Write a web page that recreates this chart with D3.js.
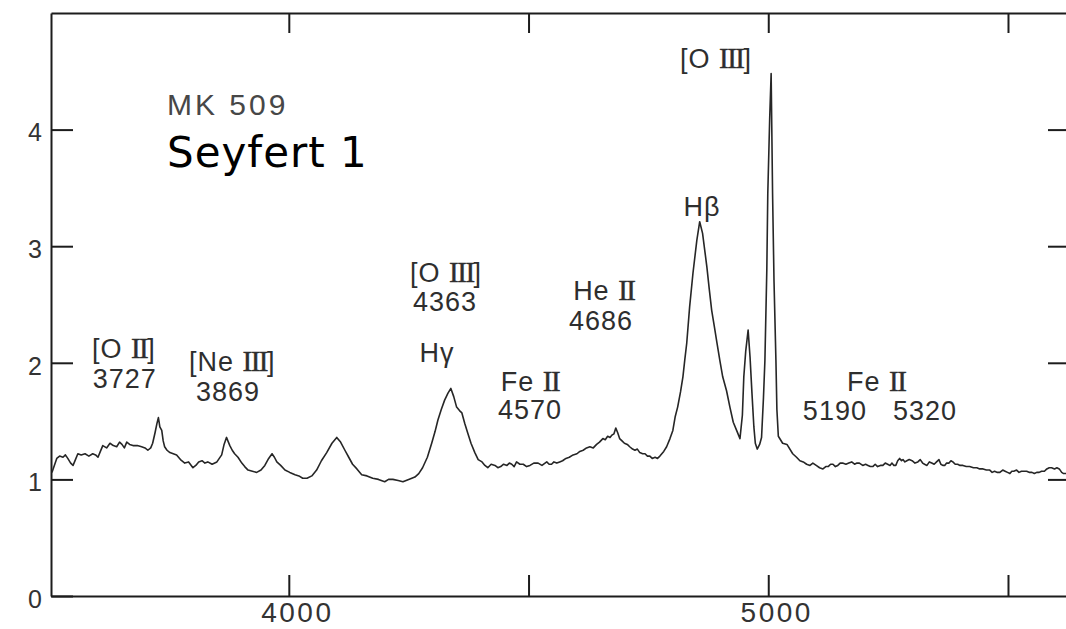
<!DOCTYPE html>
<html>
<head>
<meta charset="utf-8">
<script src="https://cdn.jsdelivr.net/npm/d3@7"></script>
<style>
  html, body { margin: 0; padding: 0; background: #fff; }
  svg { display: block; }
</style>
</head>
<body>
<svg id="chart" width="1066" height="629"></svg>
<script>
// Optical spectrum of Mrk 509: wavelength (Å) and relative flux
const wavelength = [
  3506, 3511, 3516, 3522, 3529, 3534, 3539, 3545, 3550, 3555, 3560, 3567, 3575, 3583, 3591, 3597,
  3602, 3607, 3612, 3620, 3627, 3634, 3641, 3647, 3652, 3657, 3662, 3668, 3675, 3684, 3693, 3700,
  3706, 3712, 3716, 3721, 3725, 3728, 3731, 3735, 3738, 3741, 3746, 3752, 3759, 3766, 3774, 3783,
  3791, 3800, 3806, 3812, 3819, 3825, 3831, 3840, 3850, 3855, 3860, 3865, 3870, 3874, 3877, 3882,
  3887, 3894, 3902, 3908, 3915, 3924, 3933, 3942, 3950, 3958, 3965, 3970, 3975, 3983, 3992, 4002,
  4013, 4021, 4029, 4038, 4048, 4058, 4068, 4079, 4090, 4100, 4108, 4117, 4125, 4133, 4142, 4152,
  4163, 4175, 4187, 4200, 4208, 4217, 4228, 4238, 4250, 4263, 4271, 4279, 4289, 4298, 4305, 4311,
  4318, 4325, 4332, 4338, 4344, 4350, 4356, 4361, 4367, 4373, 4380, 4388, 4395, 4403, 4409, 4415,
  4422, 4430, 4436, 4442, 4448, 4455, 4460, 4465, 4470, 4475, 4482, 4489, 4496, 4503, 4511, 4520,
  4528, 4538, 4543, 4548, 4553, 4559, 4565, 4571, 4578, 4585, 4593, 4601, 4607, 4614, 4621, 4628,
  4635, 4642, 4648, 4655, 4660, 4665, 4670, 4674, 4678, 4682, 4686, 4690, 4695, 4700, 4706, 4711,
  4717, 4722, 4727, 4732, 4738, 4743, 4748, 4753, 4758, 4764, 4769, 4774, 4782,
  4788, 4795, 4801, 4806, 4811, 4817, 4822, 4826, 4830, 4836, 4843, 4851, 4857, 4863, 4868, 4872,
  4877, 4882, 4888, 4893, 4899, 4905, 4913, 4920, 4927, 4934, 4941, 4946, 4949, 4953, 4958, 4962,
  4966, 4970, 4973, 4977, 4982, 4986, 4990, 4993, 4997, 4999, 5003, 5006, 5009, 5012, 5016, 5018,
  5021, 5030, 5039, 5051, 5059, 5066, 5073, 5080, 5087, 5093, 5100, 5107, 5114, 5120, 5125, 5130,
  5135, 5140, 5145, 5150, 5155, 5162, 5168, 5174, 5180, 5185, 5190, 5197, 5203, 5208, 5213, 5218,
  5223, 5228, 5234, 5239, 5244, 5249, 5254, 5258, 5262, 5266, 5270, 5274, 5278, 5281, 5285, 5289,
  5294, 5300, 5306, 5312, 5317, 5322, 5326, 5331, 5336, 5341, 5346, 5351, 5356, 5360, 5364, 5368,
  5372, 5377, 5381, 5385, 5390, 5395, 5400, 5406, 5413, 5420, 5428, 5435, 5441, 5448, 5455, 5462,
  5467, 5472, 5478, 5483, 5489, 5494, 5499, 5504, 5508, 5512, 5518, 5523, 5528, 5534, 5539, 5545,
  5550, 5555, 5560, 5565, 5570, 5576, 5581, 5586, 5591, 5597, 5602, 5607, 5612, 5616, 5621
];
const flux = [
  1.06, 1.12, 1.18, 1.20, 1.19, 1.21, 1.18, 1.14, 1.12, 1.17, 1.22, 1.21, 1.22, 1.20, 1.22, 1.21,
  1.19, 1.24, 1.29, 1.27, 1.31, 1.29, 1.28, 1.32, 1.30, 1.27, 1.32, 1.30, 1.29, 1.29, 1.28, 1.27,
  1.25, 1.27, 1.31, 1.40, 1.48, 1.53, 1.45, 1.42, 1.33, 1.28, 1.25, 1.23, 1.22, 1.21, 1.17, 1.14,
  1.15, 1.10, 1.12, 1.15, 1.16, 1.14, 1.15, 1.13, 1.15, 1.18, 1.21, 1.30, 1.36, 1.32, 1.29, 1.25,
  1.22, 1.19, 1.14, 1.11, 1.08, 1.07, 1.06, 1.08, 1.12, 1.18, 1.22, 1.19, 1.15, 1.12, 1.08, 1.06,
  1.04, 1.03, 1.01, 1.01, 1.03, 1.08, 1.16, 1.23, 1.31, 1.36, 1.32, 1.25, 1.19, 1.13, 1.09, 1.04,
  1.03, 1.01, 1.00, 0.98, 1.00, 1.00, 0.99, 0.98, 1.00, 1.02, 1.05, 1.10, 1.19, 1.31, 1.41, 1.51,
  1.60, 1.68, 1.74, 1.78, 1.71, 1.62, 1.59, 1.57, 1.48, 1.40, 1.31, 1.23, 1.17, 1.15, 1.12, 1.10,
  1.13, 1.12, 1.10, 1.11, 1.13, 1.12, 1.14, 1.13, 1.11, 1.15, 1.13, 1.13, 1.11, 1.12, 1.14, 1.14,
  1.12, 1.15, 1.13, 1.13, 1.15, 1.14, 1.15, 1.16, 1.18, 1.19, 1.21, 1.22, 1.24, 1.25, 1.27, 1.28,
  1.27, 1.30, 1.32, 1.35, 1.34, 1.37, 1.36, 1.38, 1.39, 1.44, 1.40, 1.35, 1.33, 1.31, 1.30, 1.28,
  1.26, 1.25, 1.26, 1.23, 1.22, 1.22, 1.20, 1.20, 1.18, 1.19, 1.18, 1.20, 1.24,
  1.28, 1.35, 1.42, 1.54, 1.62, 1.75, 1.88, 2.03, 2.17, 2.48, 2.77, 3.05, 3.21, 3.11, 2.95, 2.82,
  2.63, 2.45, 2.30, 2.17, 2.02, 1.88, 1.76, 1.62, 1.49, 1.42, 1.35, 1.55, 1.88, 2.10, 2.28, 2.05,
  1.74, 1.45, 1.31, 1.26, 1.30, 1.36, 1.70, 2.02, 2.80, 3.45, 4.10, 4.48, 3.45, 2.70, 2.02, 1.60,
  1.37, 1.31, 1.30, 1.22, 1.19, 1.16, 1.15, 1.13, 1.12, 1.14, 1.12, 1.10, 1.09, 1.11, 1.11, 1.13,
  1.13, 1.11, 1.12, 1.14, 1.14, 1.13, 1.14, 1.15, 1.13, 1.14, 1.14, 1.12, 1.13, 1.12, 1.11, 1.11,
  1.13, 1.11, 1.12, 1.12, 1.14, 1.13, 1.12, 1.14, 1.12, 1.12, 1.16, 1.18, 1.16, 1.17, 1.15, 1.16,
  1.17, 1.16, 1.14, 1.15, 1.17, 1.14, 1.13, 1.12, 1.15, 1.14, 1.13, 1.15, 1.17, 1.13, 1.12, 1.12,
  1.14, 1.14, 1.16, 1.15, 1.13, 1.13, 1.12, 1.12, 1.11, 1.11, 1.10, 1.10, 1.09, 1.09, 1.08, 1.08,
  1.06, 1.07, 1.06, 1.06, 1.08, 1.07, 1.06, 1.05, 1.07, 1.07, 1.08, 1.06, 1.07, 1.07, 1.07, 1.06,
  1.06, 1.05, 1.06, 1.06, 1.07, 1.07, 1.09, 1.10, 1.10, 1.09, 1.10, 1.09, 1.06, 1.05, 1.05
];

// Axis ticks
const xTicks = [4000, 4500, 5000, 5500];
const xTickLabels = ["4000", "", "5000", ""];
const yTicks = [0, 1, 2, 3, 4];
const yTicksRight = [1, 2, 3, 4];

// Emission-line identifications, anchored at (wavelength, flux)
const lineLabels = [
  { text: "[O II]",   wl: 3656, f: 2.04 },
  { text: "3727",     wl: 3658, f: 1.78 },
  { text: "[Ne III]", wl: 3882, f: 1.93 },
  { text: "3869",     wl: 3873, f: 1.67 },
  { text: "[O III]",  wl: 4328, f: 2.69 },
  { text: "4363",     wl: 4326, f: 2.44 },
  { text: "Hγ",       wl: 4309, f: 2.01 },
  { text: "Fe II",    wl: 4503, f: 1.76 },
  { text: "4570",     wl: 4503, f: 1.52 },
  { text: "He II",    wl: 4657, f: 2.54 },
  { text: "4686",     wl: 4651, f: 2.28 },
  { text: "Hβ",       wl: 4862, f: 3.26 },
  { text: "[O III]",  wl: 4891, f: 4.53 },
  { text: "Fe II",    wl: 5225, f: 1.76 },
  { text: "5190",     wl: 5139, f: 1.51 },
  { text: "5320",     wl: 5327, f: 1.51 }
];

const objectName = "MK 509";
const objectClass = "Seyfert 1";

const svg = d3.select("#chart");
const x = d3.scaleLinear().domain([3504, 5621]).range([51, 1066]);
const y = d3.scaleLinear().domain([0, 5]).range([596, 13]);

const ink = "#1c1c1c";
const sans = "'Liberation Sans', Arial, sans-serif";
const serif = "'Liberation Serif', 'DejaVu Serif', serif";

function styleAxis(g) {
  g.selectAll(".domain").attr("stroke", ink).attr("stroke-width", 2);
  g.selectAll(".tick line").attr("stroke", ink).attr("stroke-width", 2);
  g.selectAll(".tick text").attr("fill", "#333").attr("font-family", sans);
}

// bottom axis with wavelength labels
svg.append("g")
  .attr("transform", `translate(0,${y(0)})`)
  .call(d3.axisBottom(x).tickValues(xTicks).tickSizeInner(-21).tickSizeOuter(0)
    .tickPadding(6).tickFormat((d, i) => xTickLabels[i]))
  .call(styleAxis)
  .call(g => g.selectAll(".tick text").attr("font-size", 28).attr("letter-spacing", 2.5).attr("dx", 8));

// top frame with ticks
svg.append("g")
  .attr("transform", `translate(0,${y(5)})`)
  .call(d3.axisBottom(x).tickValues(xTicks).tickSizeInner(20).tickSizeOuter(0).tickFormat(""))
  .call(styleAxis);

// left axis
svg.append("g")
  .attr("transform", `translate(${x(3504)},0)`)
  .call(d3.axisLeft(y).tickValues(yTicks).tickSizeInner(-22).tickSizeOuter(0)
    .tickPadding(9).tickFormat(d3.format("d")))
  .call(styleAxis)
  .call(g => g.selectAll(".tick text").attr("font-size", 25).attr("dy", "0.45em"));

// right-hand ticks
svg.append("g")
  .attr("transform", `translate(${x(5621)},0)`)
  .call(d3.axisLeft(y).tickValues(yTicksRight).tickSizeInner(18).tickSizeOuter(0).tickFormat(""))
  .call(styleAxis)
  .call(g => g.select(".domain").remove());

// spectrum trace
const line = d3.line().x(d => x(d[0])).y(d => y(d[1]));
svg.append("path")
  .datum(d3.zip(wavelength, flux))
  .attr("d", line)
  .attr("fill", "none")
  .attr("stroke", "#262626")
  .attr("stroke-width", 1.6)
  .attr("stroke-linejoin", "round");

// line identifications; Roman numerals set in a serif face with joined serifs
const labels = svg.append("g")
  .attr("font-family", sans)
  .attr("font-size", 27)
  .attr("letter-spacing", 1)
  .attr("fill", "#2e2e2e")
  .attr("text-anchor", "middle");

lineLabels.forEach(l => {
  const t = labels.append("text").attr("x", x(l.wl)).attr("y", y(l.f));
  l.text.split(/(\bI+\b)/).filter(s => s.length).forEach(s => {
    const span = t.append("tspan").text(s);
    if (/^I+$/.test(s)) {
      span.attr("font-family", serif).attr("font-size", 29)
        .attr("letter-spacing", -1.5).attr("stroke", "#2e2e2e").attr("stroke-width", 0.4);
    }
  });
});

// object name and class
svg.append("text")
  .attr("x", x(3746)).attr("y", y(4.125))
  .attr("font-family", sans).attr("font-size", 30).attr("letter-spacing", 3)
  .attr("fill", "#474747")
  .text(objectName);

svg.append("text")
  .attr("x", x(3746)).attr("y", y(3.679))
  .attr("font-family", "'DejaVu Sans', sans-serif").attr("font-size", 42).attr("letter-spacing", 1)
  .attr("fill", "#000")
  .text(objectClass);
</script>
</body>
</html>
